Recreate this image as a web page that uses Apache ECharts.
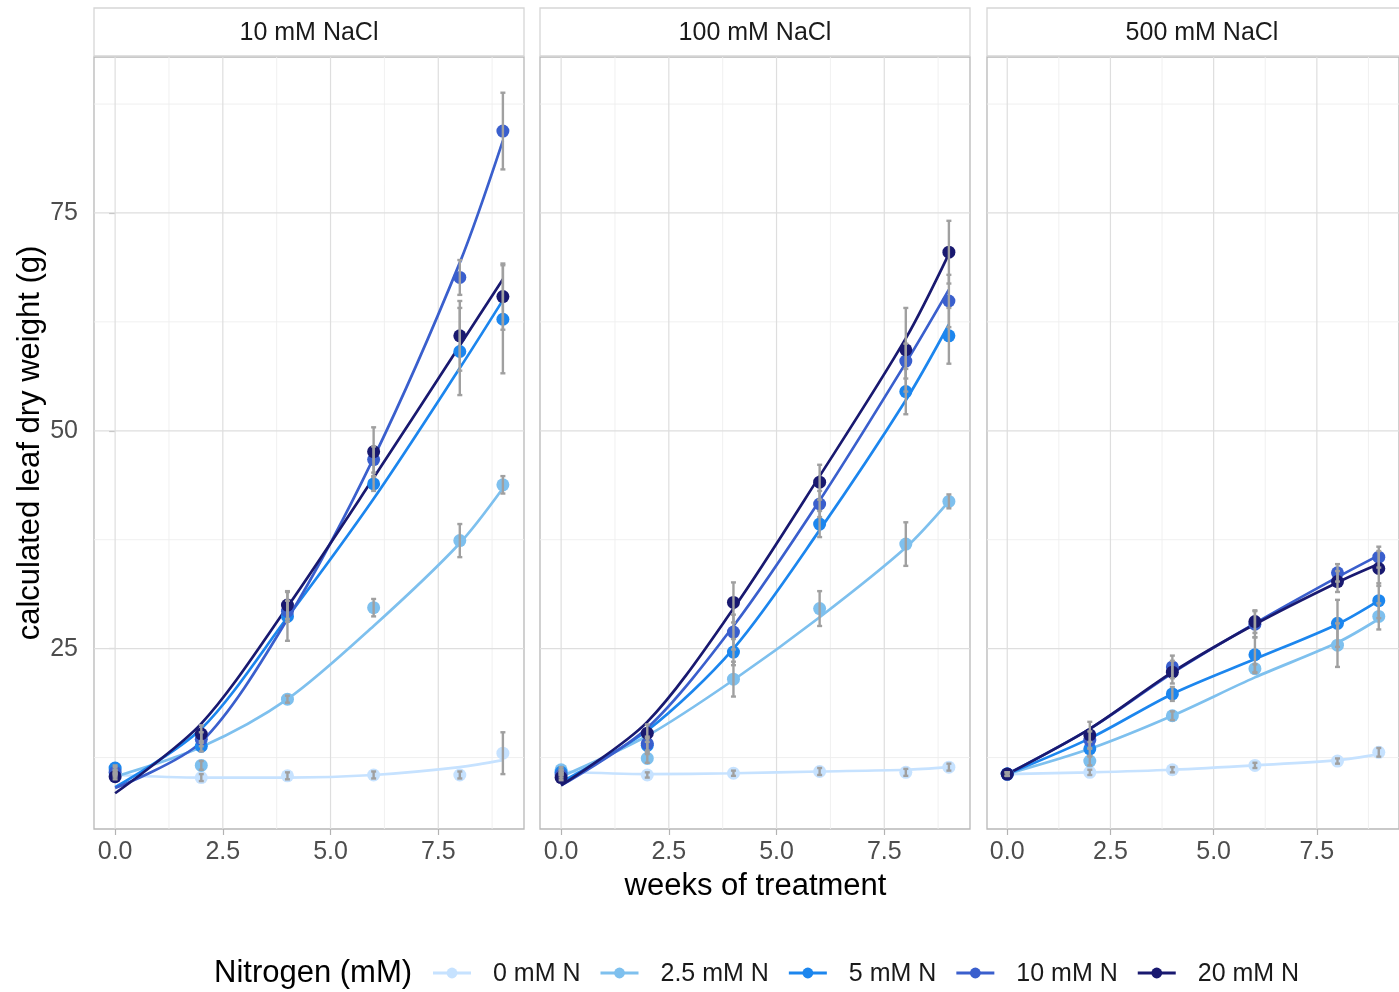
<!DOCTYPE html>
<html>
<head>
<meta charset="utf-8">
<script src="https://cdn.jsdelivr.net/npm/echarts@6/dist/echarts.min.js"></script>
<style>
  html, body { margin: 0; padding: 0; background: #ffffff; }
  #chart { width: 1399px; height: 992px; }
</style>
</head>
<body>
<div id="chart"></div>
<script>
// ---- data -------------------------------------------------------------
const weeks = [0, 2, 4, 6, 8, 9];
const salts = ['10 mM NaCl', '100 mM NaCl', '500 mM NaCl'];
const nitrogenLevels = ['0 mM N', '2.5 mM N', '5 mM N', '10 mM N', '20 mM N'];

const xTickValues = [0, 2.5, 5, 7.5];
const xMinorValues = [1.25, 3.75, 6.25, 8.75];
const yTickValues = [25, 50, 75];
const yMinorValues = [12.5, 37.5, 62.5, 87.5];

// mean calculated leaf dry weight (g); rows follow nitrogenLevels, columns follow weeks
const mean10 = [
  [10.5, 10.2, 10.4, 10.5, 10.5, 13.0],
  [11.1, 11.6, 19.2, 29.7, 37.4, 43.8],
  [11.3, 13.8, 28.7, 43.9, 59.1, 62.8],
  [10.8, 14.6, 29.3, 46.7, 67.6, 84.4],
  [10.3, 15.2, 30.0, 47.6, 60.9, 65.4]
];
const mean100 = [
  [10.9, 10.5, 10.7, 10.9, 10.8, 11.4],
  [11.1, 12.4, 21.5, 29.6, 37.0, 41.9],
  [10.8, 13.9, 24.6, 39.3, 54.5, 60.9],
  [10.5, 14.1, 26.9, 41.6, 58.0, 64.9],
  [10.2, 15.3, 30.3, 44.1, 59.3, 70.5]
];
const mean500 = [
  [10.6, 10.8, 11.1, 11.6, 12.1, 13.1],
  [10.6, 12.1, 17.3, 22.7, 25.4, 28.7],
  [10.6, 13.5, 19.8, 24.3, 27.9, 30.5],
  [10.6, 14.5, 22.9, 27.8, 33.7, 35.5],
  [10.6, 15.1, 22.3, 28.1, 32.7, 34.2]
];

// standard errors of the means
const se10 = [
  [0.2, 0.4, 0.4, 0.4, 0.4, 2.4],
  [0.3, 0.5, 0.4, 1.0, 1.9, 1.0],
  [0.3, 0.6, 2.8, 0.8, 5.0, 6.2],
  [0.3, 0.8, 1.2, 1.5, 2.0, 4.4],
  [0.3, 1.0, 1.6, 2.8, 4.0, 3.8]
];
const se100 = [
  [0.2, 0.3, 0.3, 0.4, 0.4, 0.4],
  [0.3, 0.5, 2.0, 2.0, 2.5, 0.8],
  [0.3, 0.8, 1.5, 1.5, 2.6, 3.2],
  [0.3, 0.8, 2.0, 1.5, 2.0, 3.0],
  [0.3, 1.0, 2.3, 2.0, 4.8, 3.6]
];
const se500 = [
  [0.2, 0.3, 0.3, 0.3, 0.3, 0.5],
  [0.2, 0.5, 0.5, 0.5, 2.5, 1.5],
  [0.2, 0.8, 0.8, 2.0, 2.7, 2.0],
  [0.2, 1.0, 1.3, 1.5, 1.0, 1.2],
  [0.2, 1.5, 1.3, 1.3, 1.2, 2.0]
];

// fitted growth curves evaluated at each week
const fit10 = [
  [10.5, 10.2, 10.2, 10.5, 11.4, 12.2],
  [10.3, 13.7, 19.2, 27.6, 37.1, 43.4],
  [9.1, 15.8, 28.6, 42.2, 57.2, 65.0],
  [9.0, 14.3, 28.4, 46.9, 69.3, 83.3],
  [8.4, 16.4, 29.8, 44.6, 59.8, 67.4]
];
const fit100 = [
  [10.9, 10.6, 10.7, 10.9, 11.1, 11.4],
  [10.3, 15.0, 21.4, 28.6, 36.6, 41.9],
  [9.7, 15.6, 25.0, 38.6, 53.5, 62.2],
  [9.3, 15.9, 27.6, 42.0, 57.8, 66.2],
  [9.3, 16.6, 29.6, 44.8, 60.6, 70.3]
];
const fit500 = [
  [10.6, 10.8, 11.1, 11.6, 12.2, 12.9],
  [10.6, 13.5, 17.3, 21.7, 25.7, 28.4],
  [10.6, 14.7, 19.8, 23.8, 27.8, 30.5],
  [10.6, 15.8, 22.2, 27.9, 33.2, 35.7],
  [10.6, 15.8, 22.3, 27.8, 32.6, 34.7]
];

const meansBySalt = [mean10, mean100, mean500];
const seBySalt = [se10, se100, se500];
const fitBySalt = [fit10, fit100, fit500];

// ---- style & layout ---------------------------------------------------
const FONT = '"Liberation Sans", Arial, Helvetica, sans-serif';
const colors = ['#C6E2FF', '#7EC0EE', '#1C86EE', '#3A5FCD', '#191970'];
const panelLeft = [94, 540, 987];
const panelTop = 57;
const panelWidth = 430;
const panelHeight = 772;
const stripTop = 8;
const stripHeight = 48;
const xRange = [-0.49, 9.49];
const yRange = [4.3, 92.9];
const errColor = '#A0A0A0';

const chart = echarts.init(document.getElementById('chart'), null, { renderer: 'canvas' });

function renderGridLine(params, api) {
  const vertical = api.value(0) === 1;
  const v = api.value(1);
  const major = api.value(2) === 1;
  const p1 = vertical ? api.coord([v, yRange[0]]) : api.coord([xRange[0], v]);
  const p2 = vertical ? api.coord([v, yRange[1]]) : api.coord([xRange[1], v]);
  return {
    type: 'line',
    shape: { x1: p1[0], y1: p1[1], x2: p2[0], y2: p2[1] },
    style: { stroke: major ? '#DEDEDE' : '#EEEEEE', lineWidth: major ? 1.2 : 0.9 }
  };
}

function renderErrorBar(params, api) {
  const x = api.value(0), m = api.value(1), e = api.value(2);
  const top = api.coord([x, m + e]);
  const bot = api.coord([x, m - e]);
  const cap = 2.5;
  const style = { stroke: errColor, lineWidth: 2.4 };
  return {
    type: 'group',
    children: [
      { type: 'line', shape: { x1: top[0], y1: top[1], x2: bot[0], y2: bot[1] }, style },
      { type: 'line', shape: { x1: top[0] - cap, y1: top[1], x2: top[0] + cap, y2: top[1] }, style },
      { type: 'line', shape: { x1: bot[0] - cap, y1: bot[1], x2: bot[0] + cap, y2: bot[1] }, style }
    ]
  };
}

const grids = [], xAxes = [], yAxes = [], series = [], graphics = [];

salts.forEach((salt, p) => {
  grids.push({
    left: panelLeft[p], top: panelTop, width: panelWidth, height: panelHeight,
    show: true, backgroundColor: '#ffffff', borderColor: '#B8B8B8', borderWidth: 1.3,
    containLabel: false
  });
  xAxes.push({
    type: 'value', gridIndex: p, min: xRange[0], max: xRange[1],
    axisLine: { show: false },
    splitLine: { show: false },
    axisTick: { show: true, customValues: xTickValues, length: 6, lineStyle: { color: '#B3B3B3', width: 1.2 } },
    axisLabel: {
      show: true, customValues: xTickValues, margin: 11,
      formatter: v => Number(v).toFixed(1),
      fontFamily: FONT, fontSize: 25, color: '#4D4D4D'
    }
  });
  yAxes.push({
    type: 'value', gridIndex: p, min: yRange[0], max: yRange[1],
    axisLine: { show: false },
    splitLine: { show: false },
    axisTick: { show: p === 0, customValues: yTickValues, length: 6, lineStyle: { color: '#B3B3B3', width: 1.2 } },
    axisLabel: {
      show: p === 0, customValues: yTickValues, margin: 16,
      fontFamily: FONT, fontSize: 25, color: '#4D4D4D'
    }
  });

  // panel grid lines
  const lines = [];
  xMinorValues.forEach(v => lines.push([1, v, 0]));
  yMinorValues.forEach(v => lines.push([0, v, 0]));
  xTickValues.forEach(v => lines.push([1, v, 1]));
  yTickValues.forEach(v => lines.push([0, v, 1]));
  series.push({
    type: 'custom', xAxisIndex: p, yAxisIndex: p, silent: true, z: 1,
    renderItem: renderGridLine, data: lines, encode: { x: -1, y: -1 }, clip: true
  });

  nitrogenLevels.forEach((name, n) => {
    const fit = fitBySalt[p][n];
    const mean = meansBySalt[p][n];
    const se = seBySalt[p][n];
    series.push({
      name, type: 'line', xAxisIndex: p, yAxisIndex: p, z: 3,
      data: weeks.map((w, k) => [w, fit[k]]),
      smooth: 0.3, showSymbol: false, symbol: 'none', silent: true, clip: true,
      lineStyle: { color: colors[n], width: 2.7 }, itemStyle: { color: colors[n] }
    });
    series.push({
      name, type: 'scatter', xAxisIndex: p, yAxisIndex: p, z: 4,
      data: weeks.map((w, k) => [w, mean[k]]),
      symbol: 'circle', symbolSize: 13, silent: true,
      itemStyle: { color: colors[n], opacity: 1 }
    });
    series.push({
      name, type: 'custom', xAxisIndex: p, yAxisIndex: p, z: 5, silent: true,
      renderItem: renderErrorBar,
      dimensions: ['week', 'mean', 'se'],
      encode: { x: 0, y: 1 },
      data: weeks.map((w, k) => [w, mean[k], se[k]])
    });
  });

  // facet strip
  graphics.push({
    type: 'rect', silent: true, z: 10,
    shape: { x: panelLeft[p], y: stripTop, width: panelWidth, height: stripHeight },
    style: { fill: '#ffffff', stroke: '#D6D6D6', lineWidth: 1.3 }
  });
  graphics.push({
    type: 'text', silent: true, z: 11,
    x: panelLeft[p] + panelWidth / 2, y: stripTop + stripHeight / 2 + 1,
    style: {
      text: salt, fontFamily: FONT, fontSize: 25, fill: '#1A1A1A',
      align: 'center', verticalAlign: 'middle'
    }
  });
});

// axis titles
graphics.push({
  type: 'text', silent: true,
  x: (panelLeft[0] + panelLeft[2] + panelWidth) / 2, y: 886,
  style: { text: 'weeks of treatment', fontFamily: FONT, fontSize: 31, fill: '#000000', align: 'center', verticalAlign: 'middle' }
});
graphics.push({
  type: 'text', silent: true,
  x: 30, y: panelTop + panelHeight / 2, rotation: Math.PI / 2,
  style: { text: 'calculated leaf dry weight (g)', fontFamily: FONT, fontSize: 31, fill: '#000000', align: 'center', verticalAlign: 'middle' }
});

// legend
const legendY = 973;
graphics.push({
  type: 'text', silent: true, x: 214, y: legendY,
  style: { text: 'Nitrogen (mM)', fontFamily: FONT, fontSize: 31, fill: '#000000', align: 'left', verticalAlign: 'middle' }
});
const measureCtx = document.createElement('canvas').getContext('2d');
measureCtx.font = '25px ' + FONT;
let keyX = 433;
nitrogenLevels.forEach((name, n) => {
  graphics.push({
    type: 'line', silent: true,
    shape: { x1: keyX, y1: legendY, x2: keyX + 38, y2: legendY },
    style: { stroke: colors[n], lineWidth: 2.8 }
  });
  graphics.push({
    type: 'circle', silent: true,
    shape: { cx: keyX + 19, cy: legendY, r: 5.4 },
    style: { fill: colors[n] }
  });
  const labelX = keyX + 60;
  graphics.push({
    type: 'text', silent: true, x: labelX, y: legendY + 1,
    style: { text: name, fontFamily: FONT, fontSize: 25, fill: '#1A1A1A', align: 'left', verticalAlign: 'middle' }
  });
  keyX = labelX + measureCtx.measureText(name).width + 20;
});

chart.setOption({
  animation: false,
  backgroundColor: '#ffffff',
  grid: grids,
  xAxis: xAxes,
  yAxis: yAxes,
  series: series,
  graphic: { elements: graphics }
});
</script>
</body>
</html>
